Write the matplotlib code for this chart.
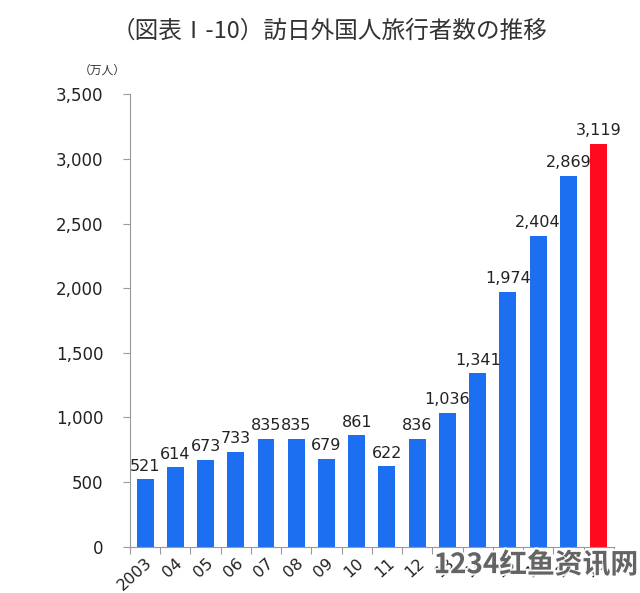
import matplotlib
matplotlib.use("Agg")
import matplotlib.pyplot as plt
import matplotlib.patheffects as pe

plt.rcParams['font.family'] = ['Noto Sans CJK JP', 'DejaVu Sans']

years = ['2003', '04', '05', '06', '07', '08', '09', '10', '11', '12',
         '13', '14', '15', '16', '17', '18']
visitors = [521, 614, 673, 733, 835, 835, 679, 861, 622, 836,
            1036, 1341, 1974, 2404, 2869, 3119]
title = '（図表Ⅰ-10）訪日外国人旅行者数の推移'
unit = '（万人）'
watermark = '1234红鱼资讯网'

blue = '#1c6ff0'
red = '#ff0a1e'
colors = [blue] * (len(visitors) - 1) + [red]
num_font = ['DejaVu Sans']

fig = plt.figure(figsize=(6.4, 5.93), dpi=100)
ax = fig.add_axes([0.203, 0.078, 0.756, 0.763])

x = range(len(years))
ax.bar(x, visitors, width=0.56, color=colors)
for i, v in enumerate(visitors):
    ax.text(i, v + 45, f'{v:,}', ha='center', va='bottom', fontsize=11.5,
            color='#222222', family=num_font)

ax.set_xlim(-0.5, len(years) - 0.5)
ax.set_ylim(0, 3500)
ax.set_yticks(range(0, 3501, 500))
ax.set_yticklabels([f'{t:,}' for t in range(0, 3501, 500)], fontsize=12,
                   color='#222222', family=num_font)
ax.set_xticks([i - 0.5 for i in range(len(years) + 1)], minor=False)
ax.set_xticklabels([])
ax.set_xticks(list(x), minor=True)
ax.set_xticklabels(years, minor=True, rotation=42, ha='right', rotation_mode='anchor',
                   fontsize=11.5, color='#222222', family=num_font)
ax.tick_params(axis='x', which='minor', length=0, pad=6)
ax.tick_params(axis='x', which='major', length=5, color='#999999')
ax.tick_params(axis='y', length=5, color='#999999', pad=14)
for s in ['top', 'right']:
    ax.spines[s].set_visible(False)
for s in ['left', 'bottom']:
    ax.spines[s].set_color('#999999')

fig.text(0.515, 0.947, title, ha='center', va='center', fontsize=17, color='#333333')
fig.text(0.16, 0.882, unit, ha='center', va='center', fontsize=8.5, color='#333333')
fig.text(0.997, 0.047, watermark, ha='right', va='center', fontsize=20, fontweight='bold',
         color='#555555', alpha=0.9,
         path_effects=[pe.withStroke(linewidth=3, foreground='white')])

fig.savefig('out.png', dpi=100)
